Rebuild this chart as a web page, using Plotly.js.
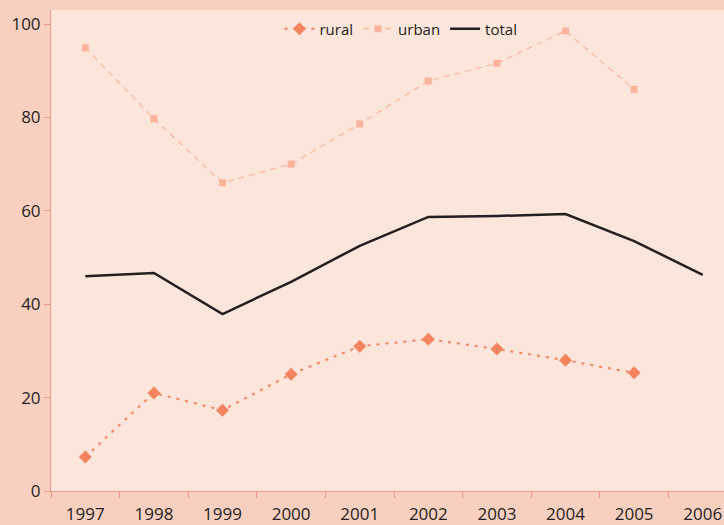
<!DOCTYPE html>
<html>
<head>
<meta charset="utf-8">
<script src="https://cdn.plot.ly/plotly-3.0.1.min.js"></script>
<style>
  body { margin: 0; padding: 0; background: #f9d0c0; }
  #chart { width: 724px; height: 525px; }
</style>
</head>
<body>
<div id="chart"></div>
<script>
var years = ['1997', '1998', '1999', '2000', '2001', '2002', '2003', '2004', '2005', '2006'];
var rural = [7.3, 21, 17.3, 25, 31, 32.5, 30.4, 28, 25.3, null];
var urban = [94.9, 79.7, 66, 70, 78.6, 87.8, 91.6, 98.5, 86, null];
var total = [46, 46.7, 37.9, 44.8, 52.5, 58.7, 58.9, 59.3, 53.5, 46.3];

var traceRural = {
  x: years,
  y: rural,
  name: 'rural',
  type: 'scatter',
  mode: 'lines+markers',
  line: {color: '#f4845f', width: 2, dash: '3px,6px'},
  marker: {symbol: 'diamond', size: 10, color: '#f4845f'}
};

var traceUrban = {
  x: years,
  y: urban,
  name: 'urban',
  type: 'scatter',
  mode: 'lines+markers',
  line: {color: '#fbb39b', width: 1.2, dash: '6px,5px'},
  marker: {symbol: 'square', size: 7, color: '#fbb39b'}
};

var traceTotal = {
  x: years,
  y: total,
  name: 'total',
  type: 'scatter',
  mode: 'lines',
  line: {color: '#231f20', width: 2.5}
};

var layout = {
  width: 724,
  height: 525,
  paper_bgcolor: '#f9d0c0',
  plot_bgcolor: '#fce5db',
  margin: {l: 51, r: 0, t: 10, b: 34},
  font: {family: 'Open Sans, sans-serif', color: '#231f20', size: 16},
  showlegend: true,
  legend: {
    orientation: 'h',
    x: 0.52,
    xanchor: 'center',
    y: 0.995,
    yanchor: 'top',
    bgcolor: 'rgba(0,0,0,0)',
    font: {size: 15}
  },
  xaxis: {
    type: 'category',
    range: [-0.5, 9.31],
    tickson: 'boundaries',
    ticks: 'outside',
    ticklen: 6,
    tickcolor: '#f0998a',
    ticklabelstandoff: 8,
    showline: true,
    linecolor: '#f0998a',
    linewidth: 1,
    showgrid: false,
    zeroline: false,
    tickfont: {size: 17}
  },
  yaxis: {
    range: [0, 103],
    tickvals: [0, 20, 40, 60, 80, 100],
    ticks: 'outside',
    ticklen: 6,
    tickcolor: '#f0998a',
    showline: true,
    linecolor: '#f0998a',
    linewidth: 1,
    showgrid: false,
    zeroline: false,
    tickfont: {size: 17}
  }
};

Plotly.newPlot('chart', [traceRural, traceUrban, traceTotal], layout, {displayModeBar: false});
</script>
</body>
</html>
